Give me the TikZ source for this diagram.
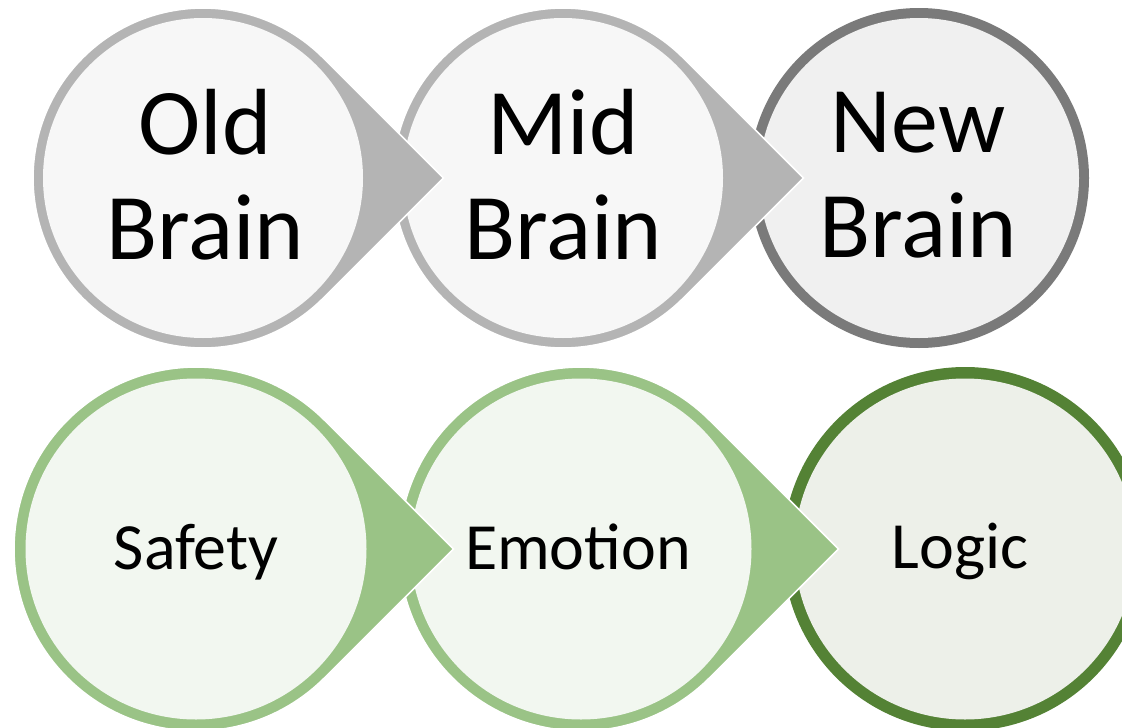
\documentclass[tikz,border=0pt]{standalone}
\usepackage{fontspec}
\setmainfont{Carlito}
\definecolor{gborder}{HTML}{B4B4B4}
\definecolor{gfill}{HTML}{F7F7F7}
\definecolor{dgborder}{HTML}{7A7A7A}
\definecolor{dgfill}{HTML}{F0F0F0}
\definecolor{lgborder}{HTML}{9AC386}
\definecolor{lgfill}{HTML}{F2F7F0}
\definecolor{dgrborder}{HTML}{548235}
\definecolor{dgrfill}{HTML}{EDF0E9}
% teardrop: cx, cy, outer radius, border width, border colour, fill colour
\newcommand{\tearshape}[6]{%
  \fill[#5] (#1+1.41421*#3,#2) -- (#1+0.70711*#3,#2+0.70711*#3)
    arc[start angle=45,end angle=315,radius=#3] -- cycle;
  \draw[white,line width=1.6pt,line join=miter] (#1+1.41421*#3,#2) -- (#1+0.70711*#3,#2+0.70711*#3)
    arc[start angle=45,end angle=315,radius=#3] -- cycle;
  \fill[#6] (#1,#2) circle[radius=#3-#4];
}
\newcommand{\ringshape}[6]{%
  \fill[#5] (#1,#2) circle[radius=#3];
  \fill[#6] (#1,#2) circle[radius=#3-#4];
}
\tikzset{
  bigtext/.style={font=\fontsize{94}{105}\selectfont, align=center, text=black},
  smalltext/.style={font=\fontsize{66}{70}\selectfont, anchor=base, text=black},
}
\begin{document}
\begin{tikzpicture}[x=1pt,y=-1pt]
\useasboundingbox (0,0) rectangle (1122,728);
\clip (0,0) rectangle (1122,728);
% top row
\ringshape{919}{178}{170}{10}{dgborder}{dgfill}
\tearshape{563}{178}{170}{10}{gborder}{gfill}
\tearshape{203}{178}{170}{10}{gborder}{gfill}
\node[bigtext] (old) at (205,175) {Old\\Brain};
\node[bigtext] (mid) at (563,175) {Mid\\Brain};
\node[bigtext] (new) at (918,175) {New\\Brain};
% bottom row
\ringshape{965}{549}{182}{11.5}{dgrborder}{dgrfill}
\tearshape{581}{549}{182}{11.5}{lgborder}{lgfill}
\tearshape{196}{549}{182}{11.5}{lgborder}{lgfill}
\node[smalltext] (safety) at (196,569) {Safety};
\node[smalltext] (emotion) at (578,569) {Emotion};
\node[smalltext] (logic) at (960,568) {Logic};
\end{tikzpicture}
\end{document}
